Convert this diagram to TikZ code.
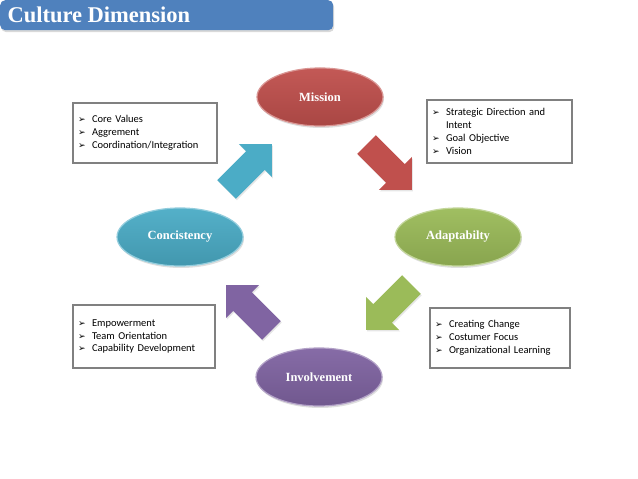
\documentclass[tikz,border=0pt]{standalone}
\usepackage{fontspec}
\setmainfont{Liberation Serif}
\newfontfamily\notefont{Carlito}
\newfontfamily\symfont{DejaVu Sans}
\usetikzlibrary{shapes.geometric,shapes.arrows,shadows}

\definecolor{titleblue}{HTML}{4F81BD}
\definecolor{dimred}{HTML}{C0504D}
\definecolor{dimblue}{HTML}{4BACC6}
\definecolor{dimgreen}{HTML}{9BBB59}
\definecolor{dimpurple}{HTML}{8064A2}

\newcommand{\bul}{\makebox[14pt][l]{\symfont\fontsize{9}{9}\selectfont ➢}}

\begin{document}
\begin{tikzpicture}[x=1pt,y=1pt,
    dim/.style={ellipse, minimum width=126pt, minimum height=58pt, inner sep=0pt,
      text=white, font=\bfseries\fontsize{12.5}{14}\selectfont,
      top color=#1!95, bottom color=#1!88!black, draw=#1!60, line width=1.2pt,
      drop shadow={opacity=0.25, shadow xshift=1pt, shadow yshift=-2pt}},
    flow/.style={single arrow, minimum height=64pt, inner xsep=0pt, inner ysep=13pt,
      single arrow head extend=10pt, fill=#1, anchor=tail,
      drop shadow={opacity=0.2, shadow xshift=1pt, shadow yshift=-1.5pt}},
    note/.style={draw=gray, line width=1.2pt, align=left, inner xsep=5pt,
      font=\notefont\fontsize{10.5}{12.8}\selectfont}]
  \useasboundingbox (0,0) rectangle (638,479);

  % title bar
  \node[fill=titleblue, rounded corners=5pt, minimum width=333pt, minimum height=30pt,
    anchor=north west, drop shadow={opacity=0.3, shadow xshift=1pt, shadow yshift=-2pt}]
    (bar) at (0,479) {};
  \node[anchor=west, text=white, font=\bfseries\fontsize{22.5}{24}\selectfont]
    (title) at (4,464) {Culture Dimension};

  % the four dimensions
  \node[dim=dimred] (mission) at (320,382) {Mission};
  \node[dim=dimblue] (consist) at (180,242) {Concistency};
  \node[dim=dimgreen] (adapt) at (458,242) {Adaptabilty};
  \node[dim=dimpurple] (involve) at (319,102) {Involvement};

  % block arrows round the cycle (placed by their tails)
  \node[flow=dimblue, rotate=45] (a1) at (226.4,289.4) {};
  \node[flow=dimred, rotate=-45] (a2) at (366.4,334.6) {};
  \node[flow=dimgreen, rotate=-135] (a3) at (411.6,194.6) {};
  \node[flow=dimpurple, rotate=135] (a4) at (271.6,148.4) {};

  % notes
  \node[note, minimum width=144pt, minimum height=60pt, text width=134pt] (n1) at (145,346)
    {\bul Core Values\\ \bul Aggrement\\ \bul Coordination/Integration};
  \node[note, minimum width=145pt, minimum height=63pt, text width=135pt] (n2) at (499.5,347.5)
    {\bul Strategic Direction and\\ \hspace*{14pt}Intent\\ \bul Goal Objective\\ \bul Vision};
  \node[note, minimum width=142pt, minimum height=63pt, text width=132pt] (n3) at (144,142.5)
    {\bul Empowerment\\ \bul Team Orientation\\ \bul Capability Development};
  \node[note, minimum width=140pt, minimum height=60pt, text width=130pt] (n4) at (500,141)
    {\bul Creating Change\\ \bul Costumer Focus\\ \bul Organizational Learning};
\end{tikzpicture}
\end{document}
